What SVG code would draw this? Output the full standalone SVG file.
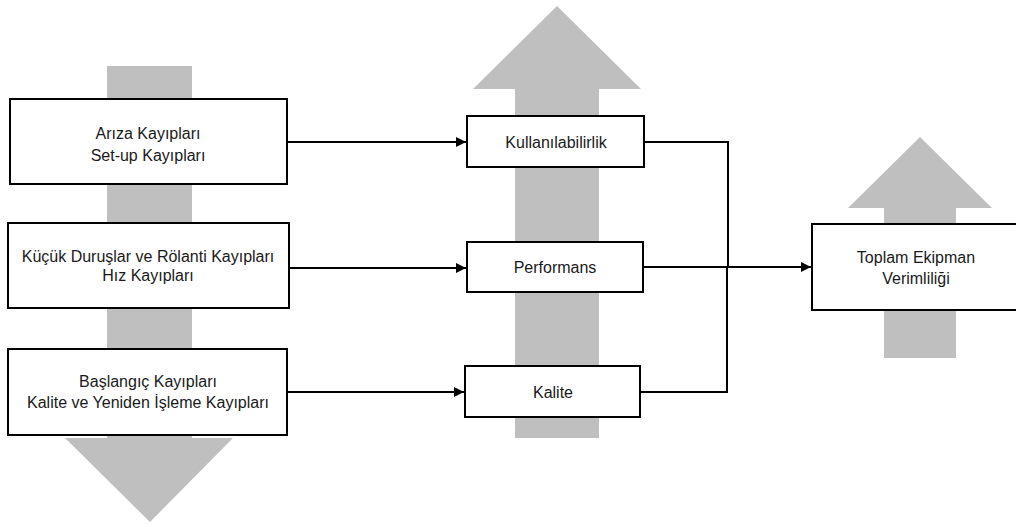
<svg xmlns="http://www.w3.org/2000/svg" width="1016" height="527" viewBox="0 0 1016 527">
  <style>
    .band { fill: #bfbfbf; }
    .box { fill: #ffffff; stroke: #000000; stroke-width: 2; }
    .lbl { font-family: "Liberation Sans", Arial, sans-serif; font-size: 16px; fill: #1a1a1a; text-anchor: middle; }
    .wire { fill: none; stroke: #000000; stroke-width: 2; }
  </style>
  <defs>
    <marker id="tip" viewBox="0 0 10 10" refX="10" refY="5" markerWidth="5" markerHeight="5" orient="auto" markerUnits="strokeWidth">
      <path d="M0,0 L10,5 L0,10 Z" fill="#000000"/>
    </marker>
  </defs>

  <!-- background block arrows -->
  <g id="band-losses">
    <polygon class="band" points="107,66 192,66 192,438 233,438 150,522 65,438 107,438"/>
  </g>
  <g id="band-factors">
    <polygon class="band" points="557,6 641,89 599,89 599,438 515,438 515,89 473,89"/>
  </g>
  <g id="band-oee">
    <polygon class="band" points="920,137 992,208 956,208 956,358 884,358 884,208 848,208"/>
  </g>

  <!-- connectors -->
  <g id="connectors">
    <line class="wire" x1="288" y1="142" x2="466" y2="142" marker-end="url(#tip)"/>
    <line class="wire" x1="289" y1="268" x2="466" y2="268" marker-end="url(#tip)"/>
    <line class="wire" x1="287" y1="392" x2="464" y2="392" marker-end="url(#tip)"/>
    <polyline class="wire" points="644,142 728,142 728,267"/>
    <polyline class="wire" points="640,392 727,392 727,267"/>
    <line class="wire" x1="643" y1="267" x2="811" y2="267" marker-end="url(#tip)"/>
  </g>

  <!-- loss groups -->
  <g id="node-ariza">
    <rect class="box" x="10" y="99" width="277" height="85"/>
    <text class="lbl" x="148" y="139">Arıza Kayıpları</text>
    <text class="lbl" x="148" y="161">Set-up Kayıpları</text>
  </g>
  <g id="node-hiz">
    <rect class="box" x="8" y="223" width="281" height="85"/>
    <text class="lbl" x="148" y="262">Küçük Duruşlar ve Rölanti Kayıpları</text>
    <text class="lbl" x="148" y="281">Hız Kayıpları</text>
  </g>
  <g id="node-kalite-kayip">
    <rect class="box" x="8" y="349" width="279" height="86"/>
    <text class="lbl" x="148" y="387">Başlangıç Kayıpları</text>
    <text class="lbl" x="148" y="408">Kalite ve Yeniden İşleme Kayıpları</text>
  </g>

  <!-- OEE factors -->
  <g id="node-kullanilabilirlik">
    <rect class="box" x="467" y="116" width="177" height="51"/>
    <text class="lbl" x="556" y="148">Kullanılabilirlik</text>
  </g>
  <g id="node-performans">
    <rect class="box" x="467" y="242" width="176" height="50"/>
    <text class="lbl" x="555" y="273">Performans</text>
  </g>
  <g id="node-kalite">
    <rect class="box" x="465" y="366" width="175" height="51"/>
    <text class="lbl" x="553" y="398">Kalite</text>
  </g>

  <!-- result -->
  <g id="node-toplam">
    <rect class="box" x="812" y="224" width="210" height="86"/>
    <text class="lbl" x="916" y="263">Toplam Ekipman</text>
    <text class="lbl" x="916" y="284">Verimliliği</text>
  </g>
</svg>
